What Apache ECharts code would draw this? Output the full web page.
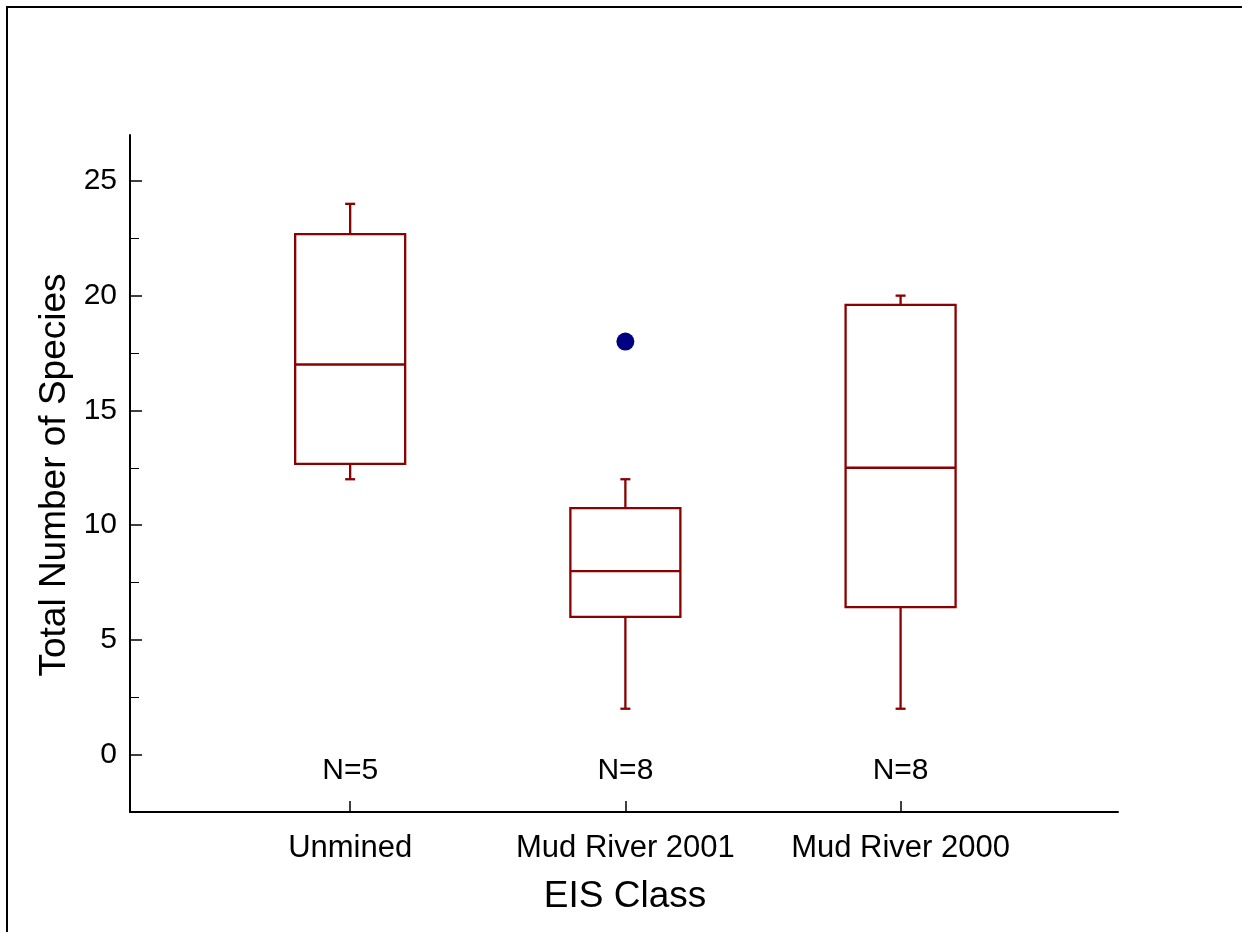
<!DOCTYPE html>
<html>
<head>
<meta charset="utf-8">
<script src="https://cdn.jsdelivr.net/npm/echarts@6/dist/echarts.min.js"></script>
<style>
html,body{margin:0;padding:0;background:#fff;}
#chart{width:1242px;height:932px;}
</style>
</head>
<body>
<div id="chart"></div>
<script>
const categories = ['Unmined', 'Mud River 2001', 'Mud River 2000'];
const categoryPositions = [1, 2, 3];
const whiskerLow = [12, 2, 2];
const q1 = [12.67, 6.0, 6.43];
const median = [17, 8, 12.5];
const q3 = [22.68, 10.74, 19.6];
const whiskerHigh = [24, 12, 20];
const nLabels = ['N=5', 'N=8', 'N=8'];
const outliers = [[2, 18]];
const yMajorTicks = [0, 5, 10, 15, 20, 25];
const yMinorTicks = [2.5, 7.5, 12.5, 17.5, 22.5];
const nLabelY = -0.72;

const FONT = '"Liberation Sans", Arial, sans-serif';
const BOX = '#8b0000';

const boxData = categoryPositions.map((x, i) => [x, whiskerLow[i], q1[i], median[i], q3[i], whiskerHigh[i]]);
const nData = categoryPositions.map((x, i) => [x, nLabelY, nLabels[i]]);

const chart = echarts.init(document.getElementById('chart'), null, {renderer: 'canvas'});

function renderBox(params, api) {
  const x = api.value(0);
  const lo = api.coord([x, api.value(1)]);
  const b1 = api.coord([x, api.value(2)]);
  const md = api.coord([x, api.value(3)]);
  const b3 = api.coord([x, api.value(4)]);
  const hi = api.coord([x, api.value(5)]);
  const hw = 55, cw = 5;
  const cx = lo[0];
  const st = {stroke: BOX, lineWidth: 2.3, fill: null};
  return {
    type: 'group',
    children: [
      {type: 'rect', shape: {x: cx - hw, y: b3[1], width: 2 * hw, height: b1[1] - b3[1]}, style: st},
      {type: 'line', shape: {x1: cx - hw, y1: md[1], x2: cx + hw, y2: md[1]}, style: st},
      {type: 'line', shape: {x1: cx, y1: b3[1], x2: cx, y2: hi[1]}, style: st},
      {type: 'line', shape: {x1: cx, y1: b1[1], x2: cx, y2: lo[1]}, style: st},
      {type: 'line', shape: {x1: cx - cw, y1: hi[1], x2: cx + cw, y2: hi[1]}, style: st},
      {type: 'line', shape: {x1: cx - cw, y1: lo[1], x2: cx + cw, y2: lo[1]}, style: st}
    ]
  };
}

function renderN(params, api) {
  const p = api.coord([api.value(0), api.value(1)]);
  return {
    type: 'text',
    x: p[0], y: p[1],
    style: {text: nData[params.dataIndex][2], fill: '#000', font: '30px ' + FONT, textAlign: 'center', textVerticalAlign: 'middle'}
  };
}

const option = {
  backgroundColor: '#fff',
  animation: false,
  grid: {left: 130, top: 135, right: 124, bottom: 120, containLabel: false},
  xAxis: {
    type: 'value', min: 0.2, max: 3.79,
    splitLine: {show: false},
    axisLine: {show: true, onZero: false, lineStyle: {color: '#000', width: 2}},
    axisTick: {show: true, inside: true, length: 11, customValues: categoryPositions, lineStyle: {color: '#000', width: 1.5}},
    axisLabel: {
      show: true, customValues: categoryPositions, margin: 21,
      color: '#000', fontSize: 31, fontFamily: FONT,
      formatter: v => categories[categoryPositions.indexOf(Math.round(v))] || ''
    }
  },
  yAxis: [{
    type: 'value', min: -2.5, max: 27,
    splitLine: {show: false},
    axisLine: {show: true, onZero: false, lineStyle: {color: '#000', width: 2}},
    axisTick: {show: true, inside: true, length: 12, customValues: yMajorTicks, lineStyle: {color: '#000', width: 1.5}},
    axisLabel: {show: true, customValues: yMajorTicks, margin: 13, color: '#000', fontSize: 30, fontFamily: FONT}
  }, {
    type: 'value', min: -2.5, max: 27, position: 'left',
    splitLine: {show: false},
    axisLine: {show: false},
    axisTick: {show: true, inside: true, length: 9, customValues: yMinorTicks, lineStyle: {color: '#000', width: 1}},
    axisLabel: {show: false}
  }],
  graphic: [
    {type: 'rect', shape: {x: 7, y: 7, width: 2000, height: 2000}, style: {fill: null, stroke: '#000', lineWidth: 2}, silent: true},
    {type: 'text', x: 625, y: 897, style: {text: 'EIS Class', fill: '#000', font: '37px ' + FONT, textAlign: 'center', textVerticalAlign: 'middle'}},
    {type: 'text', x: 55, y: 475, rotation: Math.PI / 2, style: {text: 'Total Number of Species', fill: '#000', font: '37px ' + FONT, textAlign: 'center', textVerticalAlign: 'middle'}}
  ],
  series: [
    {type: 'custom', renderItem: renderBox, data: boxData, encode: {x: 0, y: [1, 2, 3, 4, 5]}, clip: false},
    {type: 'scatter', data: outliers, symbol: 'circle', symbolSize: 18, itemStyle: {color: '#000080', opacity: 1}},
    {type: 'custom', renderItem: renderN, data: nData.map(d => [d[0], d[1]]), encode: {x: 0, y: 1}, clip: false}
  ]
};
chart.setOption(option);
</script>
</body>
</html>
